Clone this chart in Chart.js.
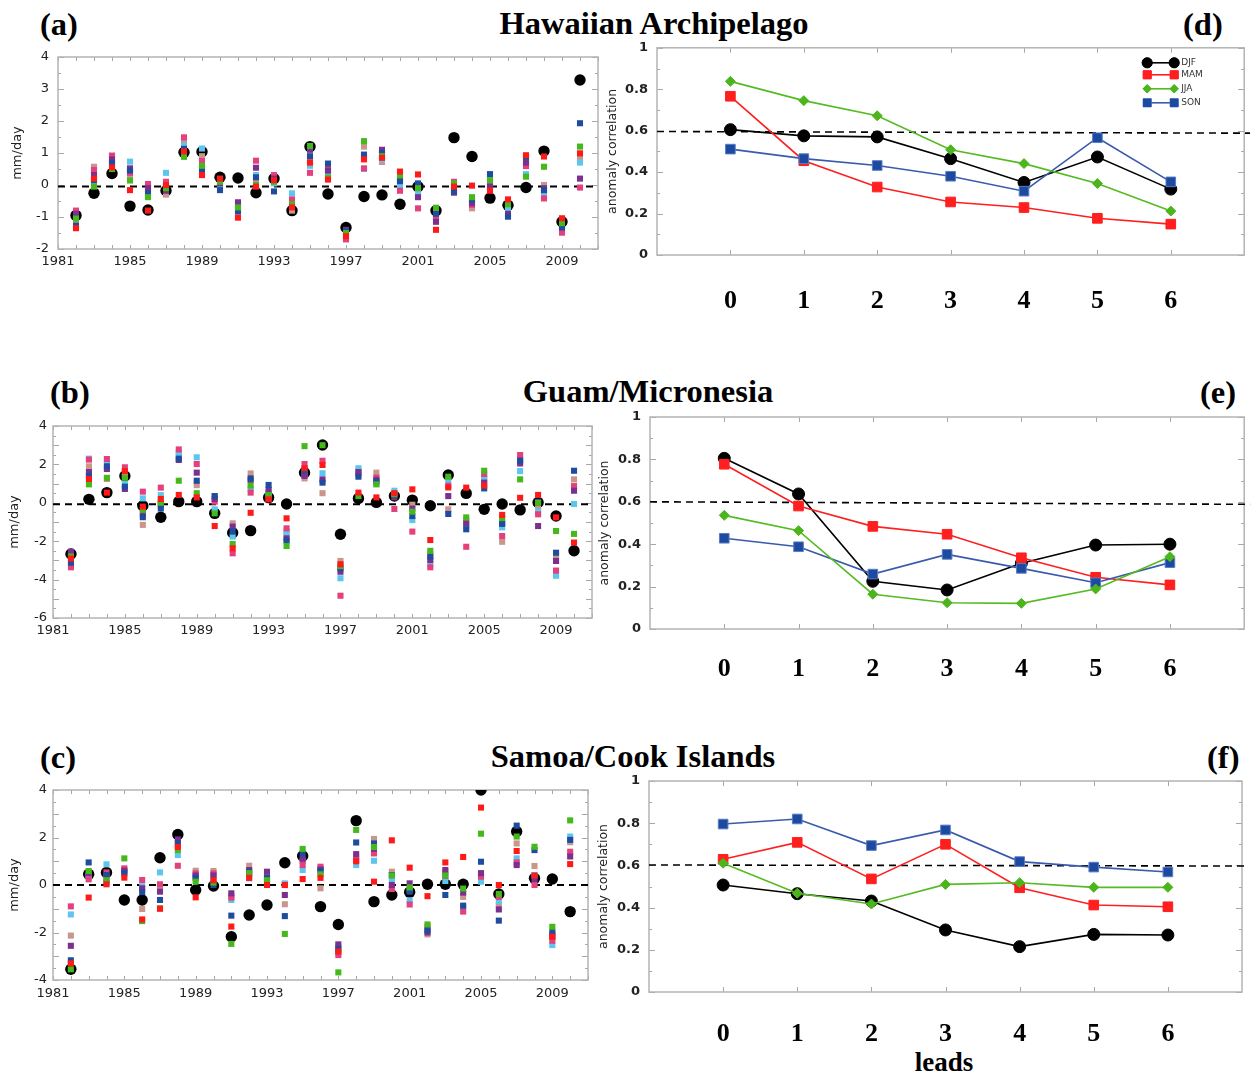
<!DOCTYPE html>
<html>
<head>
<meta charset="utf-8">
<script src="https://cdn.jsdelivr.net/npm/chart.js@4.4.0/dist/chart.umd.min.js"></script>
<style>
  body { margin: 0; width: 1252px; height: 1075px; background: #fff; position: relative; overflow: hidden; }
  canvas { position: absolute; }
  .lbl { position: absolute; font-family: "Liberation Serif", "Times New Roman", serif; font-weight: bold;
         font-size: 32.5px; line-height: 1; white-space: nowrap; color: #000; }
  .mid { transform: translateX(-50%); }
</style>
</head>
<body>
<div class="lbl" style="left:40px;top:8px">(a)</div>
<div class="lbl mid" style="left:654px;top:7px">Hawaiian Archipelago</div>
<div class="lbl" style="left:1183px;top:8px">(d)</div>
<div class="lbl" style="left:50px;top:376px">(b)</div>
<div class="lbl mid" style="left:648px;top:375px">Guam/Micronesia</div>
<div class="lbl" style="left:1200px;top:376px">(e)</div>
<div class="lbl" style="left:40px;top:741px">(c)</div>
<div class="lbl mid" style="left:633px;top:740px">Samoa/Cook Islands</div>
<div class="lbl" style="left:1207px;top:741px">(f)</div>
<div class="lbl mid" style="left:944px;top:1049px;font-size:27px">leads</div>

<canvas id="chartA" width="612" height="232" style="left:0;top:40px"></canvas>
<canvas id="chartB" width="606" height="233" style="left:0;top:410px"></canvas>
<canvas id="chartC" width="602" height="230" style="left:0;top:775px"></canvas>
<canvas id="chartD" width="652" height="290" style="left:600px;top:40px"></canvas>
<canvas id="chartE" width="662" height="290" style="left:590px;top:405px"></canvas>
<canvas id="chartF" width="662" height="290" style="left:590px;top:770px"></canvas>

<script>
// years of the hindcasts
const years = [1982, 1983, 1984, 1985, 1986, 1987, 1988, 1989, 1990, 1991, 1992, 1993, 1994, 1995,
  1996, 1997, 1998, 1999, 2000, 2001, 2002, 2003, 2004, 2005, 2006, 2007, 2008, 2009, 2010];
const yearLabels = [1981, 1985, 1989, 1993, 1997, 2001, 2005, 2009];

// ensemble members: red, green, blue, purple, pink, light blue, tan
const memberColors = ['#ff1a1a', '#45b81c', '#1f4c9e', '#7b2f8e', '#e5407e', '#5cc6ef', '#c8968a'];

// (a) Hawaiian Archipelago, mm/day
const hawObs    = [-0.95, -0.26, 0.36, -0.66, -0.78, -0.18, 1.02, 1.04, 0.24, 0.22, -0.24, 0.2, -0.8, 1.2, -0.28, -1.33, -0.36, -0.31, -0.6, -0.05, -0.8, 1.48, 0.89, -0.41, -0.63, -0.08, 1.06, -1.15, 3.28];
const hawRed    = [-1.35, 0.2, 0.55, -0.16, -0.8, 0.0, 1.05, 0.31, 0.2, -1.02, -0.05, 0.15, -0.7, 0.7, 0.17, -1.6, 0.8, 0.85, 0.42, 0.33, -1.4, -0.05, -0.02, -0.18, -0.45, 0.93, 0.89, -1.04, 0.99];
const hawGreen  = [-1.05, -0.05, 0.5, 0.14, -0.38, -0.1, 0.88, 0.6, 0.1, -0.7, 0.0, 0.1, -0.6, 1.22, 0.23, -1.5, 1.37, 0.9, 0.3, -0.1, -0.71, 0.05, -0.38, 0.15, -0.6, 0.26, 0.57, -1.19, 1.2];
const hawBlue   = [-1.27, 0.15, 0.68, 0.45, -0.26, -0.05, 1.13, 0.47, -0.16, -0.83, 0.24, -0.2, -0.68, 0.9, 0.67, -1.45, 0.95, 1.0, 0.12, 0.05, -0.9, -0.2, -0.46, 0.34, -0.99, 0.88, -0.16, -1.33, 1.93];
const hawPurple = [-0.9, 0.31, 0.8, 0.52, -0.1, -0.18, 1.05, 0.57, 0.05, -0.54, 0.54, 0.2, -0.63, 1.1, 0.45, -1.4, 0.89, 1.1, 0.15, -0.38, -1.15, -0.24, -0.57, -0.05, -0.9, 0.7, -0.1, -1.1, 0.2];
const hawPink   = [-0.8, 0.47, 0.92, 0.38, 0.03, 0.1, 1.49, 0.75, 0.16, -0.73, 0.76, 0.31, -0.45, 0.38, 0.52, -1.7, 0.52, 0.95, -0.18, -0.73, -1.0, 0.1, -0.62, 0.1, -0.53, 0.59, -0.42, -1.49, -0.08];
const hawLight  = [-1.0, 0.1, 0.62, 0.73, -0.05, 0.38, 1.23, 1.14, -0.05, -0.6, 0.31, 0.05, -0.26, 0.6, 0.36, -1.46, 0.5, 0.8, 0.0, -0.2, -1.1, -0.1, -0.5, 0.2, -0.73, 0.34, -0.26, -1.4, 0.7];
const hawTan    = [-1.15, 0.57, 0.72, 0.26, -0.18, -0.3, 1.39, 0.9, 0.12, -0.65, 0.1, 0.25, -0.8, 0.78, 0.31, -1.55, 1.2, 0.72, 0.26, -0.15, -0.85, 0.0, -0.73, 0.0, -0.65, 0.8, 0.0, -1.25, 0.83];

// (b) Guam/Micronesia, mm/day
const guamObs    = [-2.67, 0.18, 0.53, 1.4, -0.15, -0.75, 0.06, 0.06, -0.55, -1.56, -1.45, 0.27, -0.06, 1.57, 3.01, -1.64, 0.23, 0.02, 0.35, 0.14, -0.15, 1.45, 0.49, -0.34, -0.06, -0.37, 0.02, -0.69, -2.5];
const guamRed    = [-2.9, 1.24, 0.53, 1.65, -0.2, 0.2, 0.41, 0.28, -1.21, -2.37, -0.52, 0.18, -0.81, 1.8, 1.97, -3.2, 0.53, 0.28, 0.5, 0.7, -1.94, 0.8, 0.79, 0.9, -0.63, 0.26, 0.41, -0.76, -2.07];
const guamGreen  = [-2.8, 0.96, 1.3, 1.3, -0.37, 0.0, 1.15, 0.5, -0.55, -2.15, 0.9, 0.4, -2.25, 2.95, 3.0, -3.3, 0.35, 0.96, 0.45, -0.46, -2.5, 1.36, -0.76, 1.67, -0.8, 1.22, 0.0, -1.47, -1.62];
const guamBlue   = [-3.12, 1.4, 1.9, 0.84, -0.75, -0.3, 2.3, 1.15, 0.35, -1.5, 1.27, 0.93, -1.97, 1.7, 1.05, -3.41, 1.36, 1.1, 0.4, -0.69, -2.8, -0.58, -1.38, 0.75, -1.1, 2.2, 0.05, -2.6, 1.67];
const guamPurple = [-2.55, 1.6, 1.76, 0.72, -0.58, -0.1, 2.23, 1.57, 0.2, -1.24, 1.18, 0.67, -1.85, 1.4, 1.22, -3.59, 1.6, 1.2, 0.28, -0.3, -2.98, 0.35, -1.07, 1.05, -1.03, 2.05, -1.21, -3.03, 0.63];
const guamPink   = [-3.36, 2.25, 2.28, 1.85, 0.58, 0.79, 2.78, 2.02, 0.06, -2.63, 0.53, 0.2, -1.33, 2.02, 2.19, -4.84, 1.48, 1.31, -0.32, -1.5, -3.36, 0.89, -2.29, 1.5, -1.73, 2.49, -0.6, -3.53, 0.87];
const guamLight  = [-2.7, 2.3, 2.15, 0.98, 0.23, 0.4, 2.49, 2.37, -0.34, -1.76, 0.72, 0.5, -1.62, 1.57, 1.54, -3.93, 1.8, 1.0, 0.63, -0.9, -3.2, 1.18, -1.2, 1.22, -1.28, 1.65, -0.46, -3.8, -0.06];
const guamTan    = [-3.2, 1.9, 1.24, 1.38, -1.15, 0.1, 2.6, 0.92, 0.35, -1.07, 1.53, 0.55, -1.5, 1.27, 0.5, -3.03, 1.7, 1.57, 0.5, -0.1, -2.67, -0.34, -0.9, 1.3, -2.03, 2.3, -0.3, -2.75, 1.22];

// (c) Samoa/Cook Islands, mm/day
const samObs    = [-3.55, 0.45, 0.53, -0.63, -0.63, 1.15, 2.13, -0.21, -0.04, -2.18, -1.26, -0.84, 0.94, 1.22, -0.91, -1.66, 2.71, -0.7, -0.42, -0.3, 0.03, 0.03, 0.03, 4.0, -0.38, 2.25, 0.28, 0.25, -1.12];
const samRed    = [-3.3, -0.53, 0.03, 0.31, -1.45, -1.0, 1.6, -0.52, 0.2, -1.75, 0.3, 0.0, 0.0, 0.25, 0.3, -2.8, 1.0, 0.14, 1.88, 0.73, -0.47, 0.95, 1.18, 3.26, 0.0, 1.43, 0.4, -2.18, 0.88];
const samGreen  = [-3.55, 0.59, 0.2, 1.12, -1.52, -0.98, 1.47, 0.14, 0.1, -2.48, 0.5, 0.2, -2.06, 1.52, 0.45, -3.68, 2.32, 1.6, 0.4, -0.1, -1.66, 0.4, -0.15, 2.16, -0.38, 2.04, 1.61, -1.76, 2.72];
const samBlue   = [-3.17, 0.95, 0.42, 0.49, -0.3, -0.63, 1.75, 0.3, 0.0, -1.29, 0.55, 0.3, -1.31, 1.33, 0.6, -2.7, 1.79, 1.75, 0.42, -0.28, -1.9, -0.42, -0.87, 0.98, -1.5, 2.5, 1.47, -1.97, 1.9];
const samPurple = [-2.56, 0.5, 0.11, 0.6, -0.14, -0.28, 1.92, 0.4, 0.4, -0.35, 0.63, 0.56, -0.42, 1.1, 0.65, -2.5, 1.3, 1.52, 0.0, 0.07, -2.0, 0.63, -0.32, 0.5, -1.03, 0.84, 0.25, -2.1, 1.2];
const samPink   = [-0.9, 0.24, 0.53, 0.7, 0.21, 0.03, 0.81, 0.49, 0.49, -0.53, 0.45, 0.25, 0.0, 0.84, 0.77, -2.95, 1.05, 1.33, -0.17, -0.82, -1.76, 0.38, -1.12, 0.35, -0.5, 0.95, 0.0, -2.35, 1.4];
const samLight  = [-1.24, 0.35, 0.87, 0.55, -0.05, 0.53, 1.26, 0.35, 0.35, -0.63, 0.28, 0.35, 0.07, 0.63, 0.7, -2.85, 0.84, 1.02, 0.25, -0.65, -1.94, 0.17, -0.95, 0.14, -0.68, 1.12, 0.42, -2.53, 2.04];
const samTan    = [-2.13, 0.4, 0.3, 0.65, -1.01, -0.15, 1.65, 0.6, 0.59, -0.45, 0.81, 0.42, -0.81, 1.01, -0.14, -2.6, 1.2, 1.94, 0.56, -0.2, -2.08, 0.55, -0.5, 0.4, -0.84, 1.75, 0.8, -2.2, 1.8];

const hawYTicks = [-2, -1, 0, 1, 2, 3, 4];
const guamYTicks = [-6, -4, -2, 0, 2, 4];
const samYTicks = [-4, -2, 0, 2, 4];
const zeroLevels = [-0.05, -0.08, 0];

// (d)-(f) anomaly correlation by lead
const leads = [0, 1, 2, 3, 4, 5, 6];
const corrTicks = [0, 0.2, 0.4, 0.6, 0.8, 1];
const seasons = ['DJF', 'MAM', 'JJA', 'SON'];

const hawDJF = [0.605, 0.575, 0.57, 0.465, 0.35, 0.473, 0.318];
const hawMAM = [0.766, 0.455, 0.328, 0.256, 0.229, 0.177, 0.149];
const hawJJA = [0.838, 0.745, 0.672, 0.508, 0.441, 0.345, 0.212];
const hawSON = [0.511, 0.465, 0.432, 0.38, 0.308, 0.566, 0.353];

const guamDJF = [0.805, 0.637, 0.225, 0.184, 0.31, 0.396, 0.40];
const guamMAM = [0.777, 0.58, 0.484, 0.447, 0.336, 0.244, 0.208];
const guamJJA = [0.536, 0.464, 0.164, 0.124, 0.121, 0.189, 0.341];
const guamSON = [0.428, 0.388, 0.259, 0.352, 0.286, 0.218, 0.313];

const samDJF = [0.507, 0.466, 0.431, 0.294, 0.215, 0.273, 0.27];
const samMAM = [0.629, 0.709, 0.536, 0.70, 0.494, 0.412, 0.404];
const samJJA = [0.61, 0.468, 0.417, 0.51, 0.518, 0.496, 0.496];
const samSON = [0.796, 0.82, 0.694, 0.768, 0.618, 0.592, 0.569];

// dashed significance line, value at left and right ends
const sigX = [-1, 7.08];
const hawSig = [0.596, 0.588];
const guamSig = [0.600, 0.588];
const samSig = [0.602, 0.597];

const seasonStyle = [
  { line: '#000000', fill: '#000000', edge: '#000000', shape: 'circle', r: 6, order: 4 },
  { line: '#ff1f1f', fill: '#ff1f1f', edge: '#ff1f1f', shape: 'rect', r: 6.8, order: 3 },
  { line: '#55bb22', fill: '#4cb51c', edge: '#4cb51c', shape: 'rectRot', r: 5, order: 1 },
  { line: '#3a5aad', fill: '#1c4aa0', edge: '#5a7cc4', shape: 'rect', r: 6.8, order: 2 }
];

// box with inward tick marks on all four sides
const frame = {
  id: 'frame',
  beforeDatasetsDraw(chart, args, o) {
    const { ctx, chartArea: a } = chart;
    const x = chart.scales.x, y = chart.scales.y;
    ctx.save();
    ctx.strokeStyle = '#a6a6a6';
    ctx.lineWidth = 1;
    ctx.beginPath();
    for (let v = o.xFrom; v <= o.xTo + 1e-9; v += o.xStep) {
      const px = Math.round(x.getPixelForValue(v)) + 0.5;
      ctx.moveTo(px, a.bottom); ctx.lineTo(px, a.bottom - o.xLen);
      ctx.moveTo(px, a.top); ctx.lineTo(px, a.top + o.xLen);
    }
    for (let i = 0; ; i++) {
      const v = y.min + i * o.yStep;
      if (v > y.max + 1e-9) break;
      const q = v / o.yMajor;
      const len = Math.abs(q - Math.round(q)) < 1e-6 ? 6 : 3;
      const py = Math.round(y.getPixelForValue(v)) + 0.5;
      ctx.moveTo(a.left, py); ctx.lineTo(a.left + len, py);
      ctx.moveTo(a.right, py); ctx.lineTo(a.right - len, py);
    }
    ctx.stroke();
    ctx.lineWidth = 1.5;
    ctx.strokeStyle = '#b4b4b4';
    ctx.strokeRect(a.left, a.top, a.width, a.height);
    ctx.restore();
  },
  afterDraw(chart, args, o) {
    if (!o.legend) return;
    const { ctx, chartArea: a } = chart;
    const rows = [15, 27, 41, 55];
    const x0 = a.right - 97, x1 = a.right - 70;
    ctx.save();
    seasons.forEach((name, i) => {
      const st = seasonStyle[i];
      const yy = a.top + rows[i];
      ctx.strokeStyle = st.line;
      ctx.lineWidth = 1.6;
      ctx.beginPath(); ctx.moveTo(x0, yy); ctx.lineTo(x1, yy); ctx.stroke();
      [x0, x1].forEach(px => {
        ctx.fillStyle = st.fill;
        ctx.strokeStyle = st.edge;
        ctx.lineWidth = 1;
        Chart.helpers.drawPoint(ctx, { pointStyle: st.shape, radius: st.r * 0.85, borderWidth: 1 }, px, yy);
        ctx.fill();
      });
      ctx.fillStyle = '#333';
      ctx.font = '9px "DejaVu Sans"';
      ctx.textBaseline = 'middle';
      ctx.fillText(name, x1 + 7, yy);
    });
    ctx.restore();
  }
};
Chart.register(frame);

const tickFont = { family: '"DejaVu Sans", sans-serif', size: 13 };

// keep the plot area exactly where the layout padding puts it
function noPad(s) {
  s.paddingTop = 0; s.paddingBottom = 0; s.paddingLeft = 0; s.paddingRight = 0;
}

function scatterChart(id, obs, members, yTicks, zero, geo) {
  const sets = members.map((vals, i) => ({
    data: vals.map((v, j) => ({ x: years[j], y: v })),
    backgroundColor: memberColors[i],
    borderWidth: 0,
    pointStyle: 'rect',
    pointRadius: 4.3
  }));
  sets.push({
    data: obs.map((v, j) => ({ x: years[j], y: v })),
    backgroundColor: '#000',
    borderWidth: 0,
    pointStyle: 'circle',
    pointRadius: 5.7
  });
  sets.push({
    type: 'line',
    data: [{ x: 1981, y: zero }, { x: 2011, y: zero }],
    borderColor: '#000',
    borderWidth: 2,
    borderDash: [7, 5],
    pointRadius: 0
  });
  new Chart(document.getElementById(id), {
    type: 'scatter',
    data: { datasets: sets },
    options: {
      responsive: false,
      animation: false,
      events: [],
      layout: { padding: { top: geo.top, right: geo.right, left: 0, bottom: 0 } },
      plugins: {
        legend: { display: false },
        tooltip: { enabled: false },
        frame: { xFrom: 1981, xTo: 2011, xStep: 1, xLen: 4, yStep: 0.5, yMajor: 1 }
      },
      scales: {
        x: {
          type: 'linear', min: 1981, max: 2011,
          grid: { display: false, drawTicks: false },
          border: { display: false },
          afterBuildTicks: s => { s.ticks = yearLabels.map(v => ({ value: v })); },
          afterFit: s => { s.height = geo.bottom; noPad(s); },
          ticks: { padding: geo.xPad, font: tickFont, color: '#222', maxRotation: 0, autoSkip: false, callback: v => String(v) }
        },
        y: {
          min: yTicks[0], max: yTicks[yTicks.length - 1],
          grid: { display: false, drawTicks: false },
          border: { display: false },
          afterBuildTicks: s => { s.ticks = yTicks.map(v => ({ value: v })); },
          afterFit: s => { s.width = geo.left; noPad(s); },
          ticks: { padding: geo.tickPad, font: tickFont, color: '#222', callback: v => String(v) },
          title: { display: true, text: 'mm/day', font: tickFont, color: '#222', padding: { top: geo.titlePad, bottom: 0 } }
        }
      }
    }
  });
}

function leadChart(id, series, sig, geo, legend) {
  const sets = series.map((vals, i) => {
    const st = seasonStyle[i];
    return {
      type: 'line',
      order: st.order,
      data: leads.map((l, j) => ({ x: l, y: vals[j] })),
      borderColor: st.line,
      borderWidth: 1.6,
      pointStyle: st.shape,
      pointRadius: st.r,
      pointBackgroundColor: st.fill,
      pointBorderColor: st.edge,
      pointBorderWidth: 1
    };
  });
  sets.push({
    type: 'line',
    order: 9,
    clip: false,
    data: sigX.map((v, j) => ({ x: v, y: sig[j] })),
    borderColor: '#000',
    borderWidth: 1.6,
    borderDash: [7, 5],
    pointRadius: 0
  });
  new Chart(document.getElementById(id), {
    type: 'line',
    data: { datasets: sets },
    options: {
      responsive: false,
      animation: false,
      events: [],
      layout: { padding: { top: geo.top, right: geo.right, left: 0, bottom: 0 } },
      plugins: {
        legend: { display: false },
        tooltip: { enabled: false },
        frame: { xFrom: 0, xTo: 6, xStep: 1, xLen: 5, yStep: 0.1, yMajor: 0.2, legend: legend }
      },
      scales: {
        x: {
          type: 'linear', min: -1, max: 7,
          grid: { display: false, drawTicks: false },
          border: { display: false },
          afterBuildTicks: s => { s.ticks = leads.map(v => ({ value: v })); },
          afterFit: s => { s.height = geo.bottom; noPad(s); },
          ticks: { padding: geo.xPad, font: { family: '"Liberation Serif", serif', size: 26, weight: 'bold' }, color: '#000',
                   maxRotation: 0, autoSkip: false, callback: v => String(v) }
        },
        y: {
          min: 0, max: 1,
          grid: { display: false, drawTicks: false },
          border: { display: false },
          afterBuildTicks: s => { s.ticks = corrTicks.map(v => ({ value: v })); },
          afterFit: s => { s.width = geo.left; noPad(s); },
          ticks: { padding: 9, font: { family: '"DejaVu Sans", sans-serif', size: 13, weight: 'bold' }, color: '#222', callback: v => String(v) },
          title: { display: true, text: 'anomaly correlation', font: { family: '"DejaVu Sans", sans-serif', size: 12.5 }, color: '#222',
                   padding: { top: geo.titlePad, bottom: 0 } }
        }
      }
    }
  });
}

scatterChart('chartA', hawObs, [hawRed, hawGreen, hawBlue, hawPurple, hawPink, hawLight, hawTan], hawYTicks, zeroLevels[0],
  { left: 58, top: 17, right: 14, bottom: 23, tickPad: 9, titlePad: 10, xPad: 5 });
scatterChart('chartB', guamObs, [guamRed, guamGreen, guamBlue, guamPurple, guamPink, guamLight, guamTan], guamYTicks, zeroLevels[1],
  { left: 53, top: 16, right: 14, bottom: 25, tickPad: 6, titlePad: 7, xPad: 5 });
scatterChart('chartC', samObs, [samRed, samGreen, samBlue, samPurple, samPink, samLight, samTan], samYTicks, zeroLevels[2],
  { left: 53, top: 15, right: 14, bottom: 25, tickPad: 6, titlePad: 7, xPad: 6 });

leadChart('chartD', [hawDJF, hawMAM, hawJJA, hawSON], hawSig, { left: 57, top: 7, right: 6, bottom: 75, xPad: 31, titlePad: 5 }, true);
leadChart('chartE', [guamDJF, guamMAM, guamJJA, guamSON], guamSig, { left: 60, top: 12, right: 7, bottom: 66, xPad: 25, titlePad: 7 }, false);
leadChart('chartF', [samDJF, samMAM, samJJA, samSON], samSig, { left: 59, top: 11, right: 10, bottom: 68, xPad: 27, titlePad: 6 }, false);
</script>
</body>
</html>
